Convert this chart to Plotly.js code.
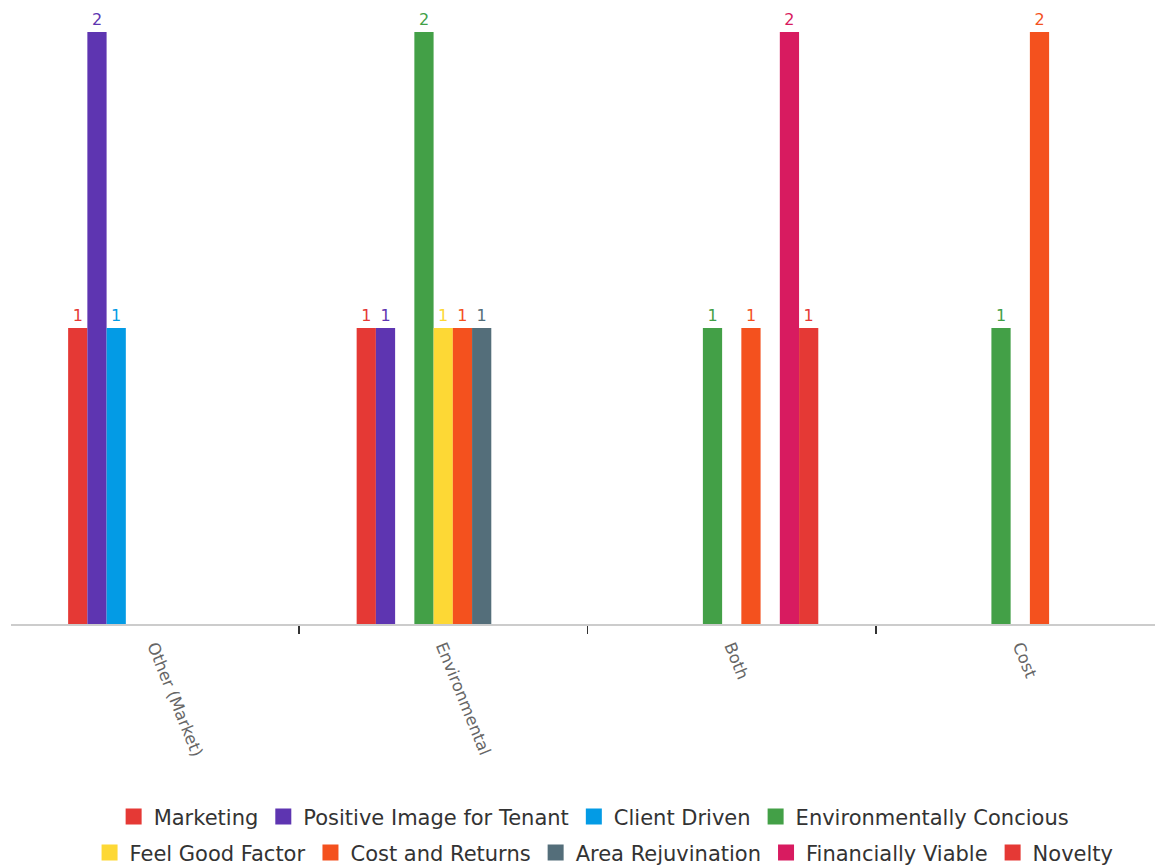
<!DOCTYPE html>
<html>
<head>
<meta charset="utf-8">
<script src="https://cdn.plot.ly/plotly-3.0.1.min.js"></script>
<style>
  html, body { margin: 0; padding: 0; background: #ffffff; }
  #chart { width: 1155px; height: 867px; }
</style>
</head>
<body>
<div id="chart"></div>
<script>
// Motivation categories on the x axis
const categories = ["Other (Market)", "Environmental", "Both", "Cost"];

// Number of responses per reason, one array per series (null = no bar)
const marketing         = [1, 1, null, null];
const positiveImage     = [2, 1, null, null];
const clientDriven      = [1, null, null, null];
const envConcious       = [null, 2, 1, 1];
const feelGood          = [null, 1, null, null];
const costReturns       = [null, 1, 1, 2];
const areaRejuvination  = [null, 1, null, null];
const financiallyViable = [null, null, 2, null];
const novelty           = [null, null, 1, null];

const seriesNames = [
  "Marketing", "Positive Image for Tenant", "Client Driven",
  "Environmentally Concious", "Feel Good Factor", "Cost and Returns",
  "Area Rejuvination", "Financially Viable", "Novelty"
];
const seriesValues = [
  marketing, positiveImage, clientDriven, envConcious, feelGood,
  costReturns, areaRejuvination, financiallyViable, novelty
];
const seriesColors = [
  "#E53935", "#5E35B1", "#039BE5", "#43A047", "#FDD835",
  "#F4511E", "#546E7A", "#D81B60", "#E53935"
];
// first four entries go in the upper legend row, the rest in the lower one
const legendRow = [1, 1, 1, 1, 2, 2, 2, 2, 2];

const FONT = "'DejaVu Sans', 'Open Sans', sans-serif";

const traces = [];
seriesNames.forEach((name, i) => {
  traces.push({
    type: "bar",
    name: name,
    x: categories,
    y: seriesValues[i],
    marker: { color: seriesColors[i] },
    texttemplate: "%{y}",
    textposition: "outside",
    textfont: { family: FONT, size: 16, color: seriesColors[i] },
    cliponaxis: false,
    legendgroup: "g" + i,
    showlegend: false,
    hoverinfo: "x+y+name"
  });
});
// square legend swatches linked to each bar series
seriesNames.forEach((name, i) => {
  traces.push({
    type: "scatter",
    mode: "markers",
    name: name,
    x: [null],
    y: [null],
    marker: { symbol: "square", size: 18, color: seriesColors[i] },
    legendgroup: "g" + i,
    legend: legendRow[i] === 1 ? "legend" : "legend2",
    showlegend: true,
    hoverinfo: "skip"
  });
});

const legendBase = {
  orientation: "h",
  xref: "container",
  yref: "container",
  xanchor: "center",
  yanchor: "middle",
  font: { family: FONT, size: 21, color: "#333333" },
  itemsizing: "trace",
  bgcolor: "rgba(0,0,0,0)"
};

const layout = {
  width: 1155,
  height: 867,
  margin: { l: 11, r: 0, t: 32, b: 243, autoexpand: false },
  paper_bgcolor: "#ffffff",
  plot_bgcolor: "#ffffff",
  barmode: "group",
  bargap: 0.4,
  bargroupgap: 0,
  font: { family: FONT, color: "#666666" },
  xaxis: {
    type: "category",
    range: [-0.498, 3.467],
    showline: true,
    linecolor: "#cccccc",
    linewidth: 1.5,
    ticks: "outside",
    tickson: "boundaries",
    ticklen: 8,
    tickwidth: 1.5,
    tickcolor: "#333333",
    tickangle: 68,
    ticklabelstandoff: 5,
    tickfont: { family: FONT, size: 16.5, color: "#666666" },
    showgrid: false,
    zeroline: false,
    automargin: false,
    fixedrange: true
  },
  yaxis: {
    range: [0, 2],
    visible: false,
    showgrid: false,
    zeroline: false,
    fixedrange: true
  },
  showlegend: true,
  legend: Object.assign({}, legendBase, { x: 0.5144, y: 0.0577 }),
  legend2: Object.assign({}, legendBase, { x: 0.523, y: 0.0162 })
};

Plotly.newPlot("chart", traces, layout, { displayModeBar: false, staticPlot: true });
</script>
</body>
</html>
